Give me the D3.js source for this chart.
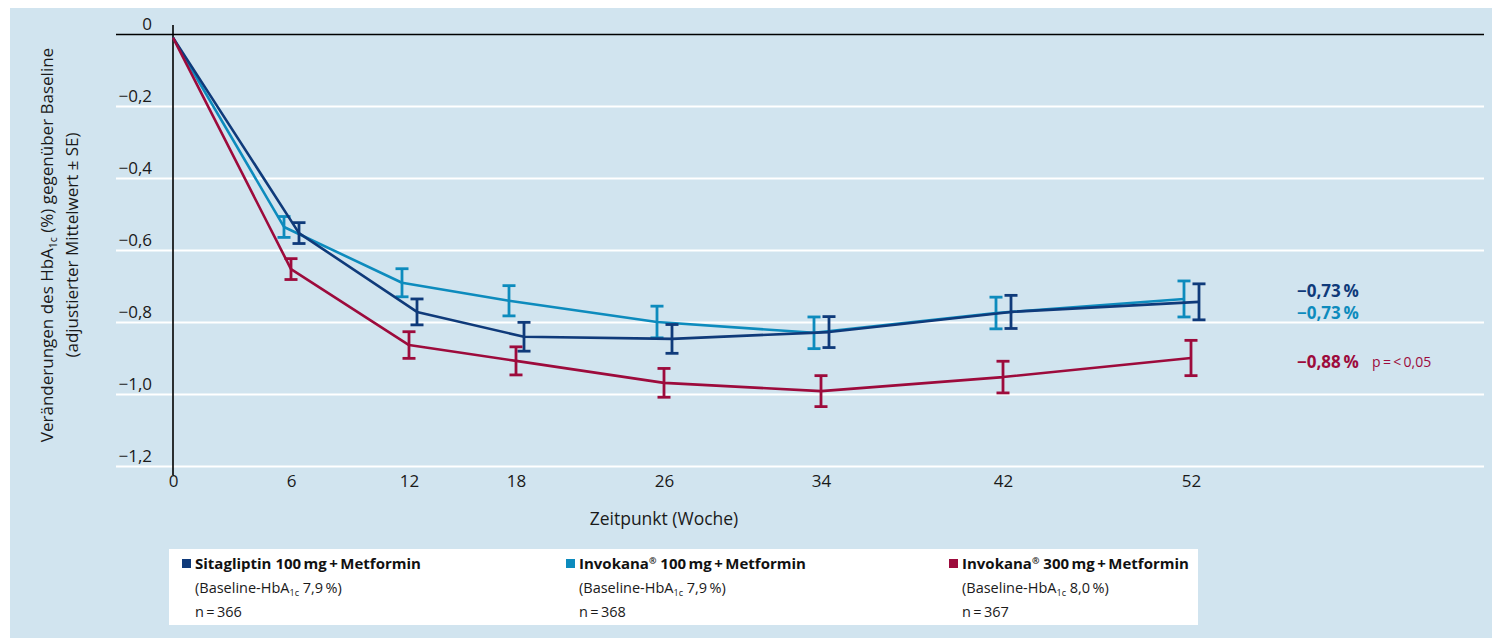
<!DOCTYPE html>
<html>
<head>
<meta charset="utf-8">
<script src="https://cdn.jsdelivr.net/npm/d3@7"></script>
<style>
  html, body { margin: 0; padding: 0; background: #ffffff; }
  svg { display: block; font-family: "Open Sans", "Noto Sans", sans-serif; }
</style>
</head>
<body>
<svg id="chart" width="1502" height="638"></svg>
<script>
// ---------------- data ----------------
const weeks = [0, 6, 12, 18, 26, 34, 42, 52];
const yTicks = [0, -0.2, -0.4, -0.6, -0.8, -1.0, -1.2];

const sitaMean   = [-0.01, -0.553, -0.772, -0.841, -0.847, -0.828, -0.772, -0.744];
const sitaSE     = [0, 0.029, 0.036, 0.040, 0.040, 0.043, 0.046, 0.050];
const inv100Mean = [-0.01, -0.536, -0.691, -0.741, -0.800, -0.830, -0.775, -0.736];
const inv100SE   = [0, 0.029, 0.039, 0.042, 0.044, 0.044, 0.044, 0.050];
const inv300Mean = [-0.01, -0.653, -0.864, -0.908, -0.969, -0.992, -0.953, -0.900];
const inv300SE   = [0, 0.029, 0.037, 0.039, 0.040, 0.043, 0.044, 0.049];

const seriesNames = ["Sitagliptin 100\u2009mg\u2009+\u2009Metformin", "Invokana® 100\u2009mg\u2009+\u2009Metformin", "Invokana® 300\u2009mg\u2009+\u2009Metformin"];
const baselines = ["7,9\u2009%", "7,9\u2009%", "8,0\u2009%"];
const nValues = ["366", "368", "367"];
const endLabels = ["−0,73\u2009%", "−0,73\u2009%", "−0,88\u2009%"];
const pNote = "p\u2009=\u2009<\u20090,05";

// ---------------- layout ----------------
const svg = d3.select("#chart");
const colors = ["#0f3a7a", "#0d8bbd", "#9d0b3c"];
const offsets = [8, -7, 0];
const textColor = "#1a1a1a";

// panel
svg.append("rect").attr("x", 10).attr("y", 8).attr("width", 1482).attr("height", 630).attr("fill", "#d1e4ef");

const y = d3.scaleLinear().domain([0, -1.2]).range([34, 466]);
// piecewise linear time axis following the reference's spacing of the visits
const xStops = [173, 291, 409, 516, 664, 821, 1003, 1191];
const x = d3.scaleLinear().domain(weeks).range(xStops);

const locale = d3.formatLocale({decimal: ",", thousands: ".", grouping: [3], currency: ["", "€"], minus: "\u2212"});
const f1 = locale.format(".1f");
const yFmt = d => d === 0 ? "0" : f1(d);

// gridlines
const grid = svg.append("g").attr("transform", "translate(116,0)")
  .call(d3.axisRight(y).tickValues(yTicks).tickSize(1368).tickFormat(""));
grid.select(".domain").remove();
grid.selectAll(".tick line")
  .attr("stroke", d => d === 0 ? "#000" : "#ffffff")
  .attr("stroke-width", d => d === 0 ? 1.6 : 2);

// y tick labels
const yAx = svg.append("g").attr("transform", "translate(152,0)")
  .call(d3.axisLeft(y).tickValues(yTicks).tickSize(0).tickPadding(0).tickFormat(yFmt));
yAx.select(".domain").remove();
yAx.selectAll("text").attr("font-size", 17).attr("fill", textColor)
  .attr("font-family", "Open Sans").attr("dy", "0.32em").attr("y", -10);

// y axis vertical line
svg.append("line").attr("x1", x(0)).attr("x2", x(0)).attr("y1", 25).attr("y2", 475)
  .attr("stroke", "#000").attr("stroke-width", 1.6);

// x axis labels
const xAx = svg.append("g").attr("transform", "translate(0,478)")
  .call(d3.axisBottom(x).tickValues(weeks).tickSize(0).tickPadding(0).tickFormat(d => String(d)));
xAx.select(".domain").remove();
xAx.selectAll("text").attr("font-size", 17).attr("fill", textColor).attr("font-family", "Open Sans").attr("dy", "0.55em");

// axis titles
svg.append("text").attr("x", 664).attr("y", 525).attr("text-anchor", "middle")
  .attr("font-size", 17.5).attr("fill", textColor).text("Zeitpunkt (Woche)");

const yt = svg.append("g").attr("transform", "translate(53,245) rotate(-90)");
const yt1 = yt.append("text").attr("text-anchor", "middle").attr("y", 0).attr("font-size", 17).attr("fill", textColor);
yt1.append("tspan").text("Veränderungen des HbA");
yt1.append("tspan").attr("font-size", 10.5).attr("dy", 4).text("1c");
yt1.append("tspan").attr("dy", -4).text(" (%) gegenüber Baseline");
yt.append("text").attr("text-anchor", "middle").attr("y", 25).attr("font-size", 17).attr("fill", textColor)
  .text("(adjustierter Mittelwert ± SE)");

// series
const series = [
  {mean: sitaMean, se: sitaSE},
  {mean: inv100Mean, se: inv100SE},
  {mean: inv300Mean, se: inv300SE}
];
const drawOrder = [1, 0, 2];
const line = d3.line().x(d => d.x).y(d => y(d.v));

drawOrder.forEach(si => {
  const s = series[si];
  const pts = weeks.map((w, i) => ({x: x(w) + (w === 0 ? 0 : offsets[si]), v: s.mean[i], se: s.se[i], w}));
  const g = svg.append("g");
  g.append("path").datum(pts).attr("d", line).attr("fill", "none")
    .attr("stroke", colors[si]).attr("stroke-width", 2.6).attr("stroke-linejoin", "round");
  const eb = g.selectAll("g.eb").data(pts.filter(p => p.w !== 0)).join("g");
  eb.append("line").attr("x1", d => d.x).attr("x2", d => d.x)
    .attr("y1", d => y(d.v + d.se)).attr("y2", d => y(d.v - d.se))
    .attr("stroke", colors[si]).attr("stroke-width", 2.8);
  [1, -1].forEach(sign => {
    eb.append("line").attr("x1", d => d.x - 6.5).attr("x2", d => d.x + 6.5)
      .attr("y1", d => y(d.v + sign * d.se)).attr("y2", d => y(d.v + sign * d.se))
      .attr("stroke", colors[si]).attr("stroke-width", 2.8);
  });
});

// end labels
const endY = [291, 313, 362];
endLabels.forEach((t, i) => {
  svg.append("text").attr("x", 1297).attr("y", endY[i]).attr("dy", "0.35em")
    .attr("font-size", 17).attr("font-weight", 700).attr("fill", colors[i]).text(t);
});
svg.append("text").attr("x", 1372).attr("y", 362).attr("dy", "0.35em")
  .attr("font-size", 14).attr("fill", colors[2]).text(pNote);

// legend
svg.append("rect").attr("x", 169).attr("y", 549).attr("width", 1029).attr("height", 76).attr("fill", "#ffffff");
const legX = [182, 566, 949];
seriesNames.forEach((name, i) => {
  const g = svg.append("g").attr("transform", `translate(${legX[i]},0)`);
  g.append("rect").attr("x", 0).attr("y", 559).attr("width", 9).attr("height", 9).attr("fill", colors[i]);
  const t = g.append("text").attr("x", 13).attr("y", 569).attr("font-size", 15).attr("font-weight", 700).attr("fill", "#111");
  const parts = name.split("®");
  t.append("tspan").text(parts[0]);
  if (parts.length > 1) {
    t.append("tspan").attr("font-size", 9).attr("dy", -5).text("®");
    t.append("tspan").attr("dy", 5).text(parts[1]);
  }
  const t2 = g.append("text").attr("x", 13).attr("y", 593).attr("font-size", 14.5).attr("fill", textColor);
  t2.append("tspan").text("(Baseline-HbA");
  t2.append("tspan").attr("font-size", 9).attr("dy", 3).text("1c");
  t2.append("tspan").attr("dy", -3).text(" " + baselines[i] + ")");
  g.append("text").attr("x", 13).attr("y", 617).attr("font-size", 14.5).attr("fill", textColor).text("n\u2009=\u2009" + nValues[i]);
});
</script>
</body>
</html>
